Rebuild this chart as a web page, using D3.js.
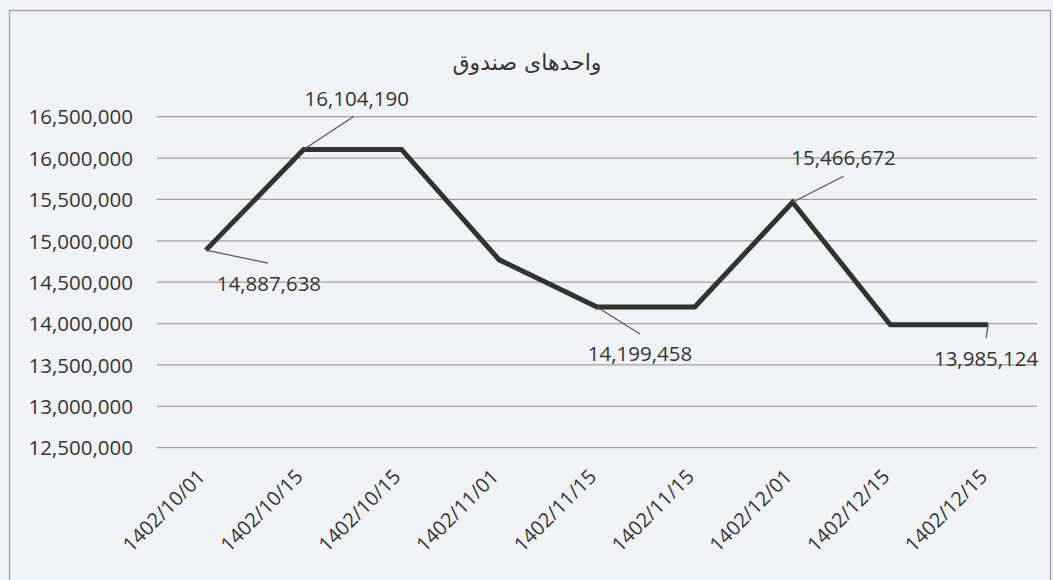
<!DOCTYPE html>
<html>
<head>
<meta charset="utf-8">
<script src="https://cdn.jsdelivr.net/npm/d3@7"></script>
<style>
    body { margin: 0; background: #f1f2f5; }
    svg text { font-family: "Open Sans", "Noto Sans", sans-serif; fill: #353535; }
    .grid line { stroke: #a0a0a0; stroke-width: 1.3px; }
    .title { font-family: "DejaVu Sans", sans-serif !important; }
</style>
</head>
<body>
<div id="chart"></div>
<script>
const chartTitle = "واحدهای صندوق";
const dates = [
    "1402/10/01", "1402/10/15", "1402/10/15", "1402/11/01", "1402/11/15",
    "1402/11/15", "1402/12/01", "1402/12/15", "1402/12/15",
];
const units = [
    14887638, 16104190, 16104190, 14770000, 14199458,
    14199458, 15466672, 13985124, 13985124,
];
const labelled = [0, 1, 4, 6, 8];
const yTicks = [12500000, 13000000, 13500000, 14000000, 14500000,
    15000000, 15500000, 16000000, 16500000];

// where each data label sits relative to its point (leader end, text baseline)
const labelOffsets = {
    0: { lx: 62, ly: 13, tx: 63, ty: 41 },
    1: { lx: 50, ly: -33, tx: 53, ty: -43 },
    4: { lx: 43, ly: 27, tx: 43, ty: 54 },
    6: { lx: 51, ly: -26, tx: 51, ty: -37 },
    8: { lx: -2, ly: 13, tx: -2, ty: 41 },
};

const width = 1053, height = 580;
const svg = d3.select("#chart").append("svg").attr("width", width).attr("height", height);

svg.append("rect").attr("x", 9.5).attr("y", 10.5).attr("width", 1041).attr("height", 600)
    .attr("fill", "none").attr("stroke", "#9a9a9a").attr("stroke-width", 1.2);

const x = d3.scalePoint().domain(d3.range(dates.length)).range([157, 1037]).padding(0.5);
const y = d3.scaleLinear().domain([12500000, 16500000]).range([447.7, 116.7]);
const fmt = d3.format(",");

svg.append("text").attr("class", "title")
    .attr("x", 527).attr("y", 70).attr("text-anchor", "middle")
    .style("font-size", "22px").text(chartTitle);

// gridlines
svg.append("g").attr("class", "grid").selectAll("line").data(yTicks).join("line")
    .attr("x1", 157).attr("x2", 1037)
    .attr("y1", d => y(d)).attr("y2", d => y(d));

// y axis
const yAxis = svg.append("g").attr("transform", "translate(133,0)")
    .call(d3.axisLeft(y).tickValues(yTicks).tickFormat(fmt).tickSize(0).tickPadding(0));
yAxis.select(".domain").remove();
yAxis.selectAll("text").style("font-size", "20.5px").attr("dy", "0.35em");

// x axis labels
const xAxis = svg.append("g").attr("transform", "translate(0,450)")
    .call(d3.axisBottom(x).tickFormat(i => dates[i]).tickSize(0));
xAxis.select(".domain").remove();
xAxis.selectAll("text")
    .style("font-size", "20px")
    .attr("text-anchor", "end")
    .attr("dy", 0).attr("y", 0)
    .attr("transform", "translate(0,28) rotate(-45)");

// line
const line = d3.line().x((d, i) => x(i)).y(d => y(d));
svg.append("path").datum(units)
    .attr("fill", "none").attr("stroke", "#31332f").attr("stroke-width", 5)
    .attr("stroke-linejoin", "miter").attr("d", line);

// data labels with leader lines
const lab = svg.append("g").selectAll("g").data(labelled).join("g");
lab.append("line")
    .attr("x1", i => x(i)).attr("y1", i => y(units[i]))
    .attr("x2", i => x(i) + labelOffsets[i].lx).attr("y2", i => y(units[i]) + labelOffsets[i].ly)
    .attr("stroke", "#555").attr("stroke-width", 1.2);
lab.append("text")
    .attr("x", i => x(i) + labelOffsets[i].tx).attr("y", i => y(units[i]) + labelOffsets[i].ty)
    .attr("text-anchor", "middle").style("font-size", "20.5px")
    .text(i => fmt(units[i]));
</script>
</body>
</html>
